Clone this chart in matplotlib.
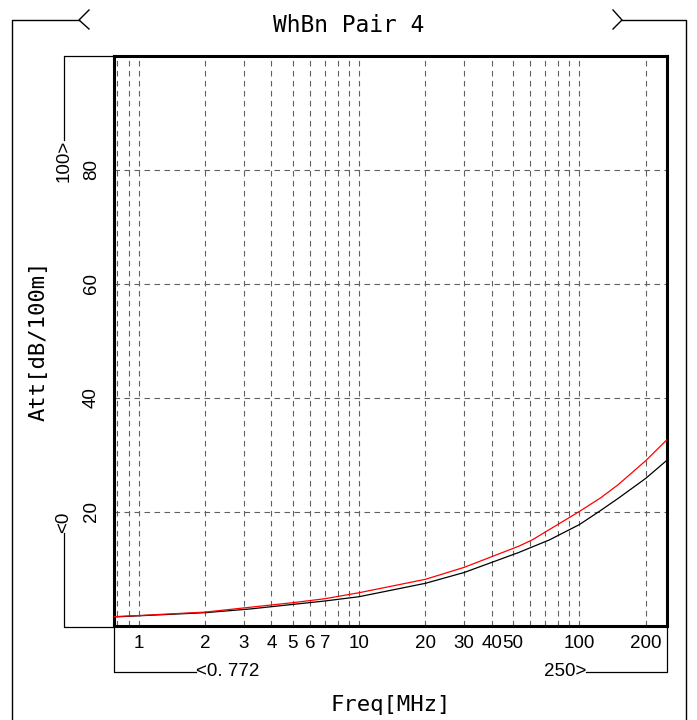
import numpy as np
import matplotlib
matplotlib.use('Agg')
from matplotlib import pyplot as plt
from matplotlib.lines import Line2D

# values
freq_meas = [0.772, 1, 2, 3.2, 5, 7, 10, 20, 30, 53, 73, 100, 123, 150, 200, 250]
att_meas = [1.5, 1.7, 2.25, 2.9, 3.7, 4.3, 5.05, 7.4, 9.3, 12.8, 15.0, 17.7, 20.0, 22.3, 25.8, 29.0]

freq_lim = [0.772, 1, 2, 3.2, 5, 7, 10, 20, 30, 53, 61, 100, 125, 150, 200, 250]
att_lim = [1.55, 1.75, 2.35, 3.2, 4.0, 4.7, 5.75, 8.1, 10.2, 13.9, 15.0, 20.0, 22.4, 24.7, 28.9, 32.6]

x_grid = [0.8, 0.9, 1, 2, 3, 4, 5, 6, 7, 8, 9, 10, 20, 30, 40, 50, 60, 70, 80, 90, 100, 200]
x_labels = {1: '1', 2: '2', 3: '3', 4: '4', 5: '5', 6: '6', 7: '7', 10: '10',
            20: '20', 30: '30', 40: '40', 50: '50', 100: '100', 200: '200'}
y_ticks = [20, 40, 60, 80]
x_min, x_max = 0.772, 250
y_min, y_max = 0, 100

title = 'WhBn Pair 4'
x_title = 'Freq[MHz]'
y_title = 'Att[dB/100m]'

W, H = 697, 720
mono = ['DejaVu Sans Mono']
num = ['Liberation Sans', 'DejaVu Sans']

fig = plt.figure(figsize=(W / 100, H / 100), dpi=100)
L, R, T, B = 114, 667, 55.5, 625.5
ax = fig.add_axes([L / W, 1 - B / H, (R - L) / W, (B - T) / H])

ax.plot(freq_meas, att_meas, color='black', lw=0.9, zorder=3)
ax.plot(freq_lim, att_lim, color='red', lw=0.9, zorder=4)

ax.set_xscale('log')
ax.set_xlim(x_min, x_max)
ax.set_ylim(y_min, y_max)
ax.set_xticks(x_grid)
ax.set_xticklabels([x_labels.get(v, '') for v in x_grid])
ax.xaxis.set_minor_locator(matplotlib.ticker.NullLocator())
ax.set_yticks(y_ticks)
ax.set_yticklabels([str(v) for v in y_ticks], rotation=90, va='center')
ax.tick_params(axis='x', length=0, pad=7, labelsize=13.5)
ax.tick_params(axis='y', length=0, pad=10, labelsize=13.5)
for lab in ax.get_xticklabels() + ax.get_yticklabels():
    lab.set_family(num)
ax.grid(True, color='#606060', lw=0.8, linestyle=(0, (5, 4)))
for s in ax.spines.values():
    s.set_linewidth(2.2)

ax.set_xlabel(x_title, family=mono, fontsize=16, labelpad=31)
ax.set_ylabel(y_title, family=mono, fontsize=16, labelpad=25)


def fx(x):
    return x / W


def fy(y):
    return 1 - y / H


def line(xs, ys, lw=1.0, color='black'):
    fig.add_artist(Line2D([fx(v) for v in xs], [fy(v) for v in ys], lw=lw, color=color))


# outer frame with title chevrons
line([12, 12, 79], [720, 20, 20])
line([89, 79, 89], [10, 20, 29])
line([686, 686, 622], [720, 20, 20])
line([613, 622, 613], [10, 20, 29])
fig.text(fx(349), fy(26), title, family=mono, fontsize=16.5, ha='center', va='center')

# axis range brackets
line([L, 64, 64], [T, T, 140], lw=0.9)
fig.text(fx(64), fy(140), '%d>' % y_max, family=num, fontsize=13.5, rotation=90,
         ha='center', va='top')
line([L, 64, 64], [B + 1, B + 1, 533], lw=0.9)
fig.text(fx(64), fy(533), '<%d' % y_min, family=num, fontsize=13.5, rotation=90,
         ha='center', va='bottom')
line([L, L, 196], [B, 672, 672], lw=0.9)
fig.text(fx(196), fy(672), '<0. 772', family=num, fontsize=13.5, ha='left', va='center')
line([R, R, 586], [B, 672, 672], lw=0.9)
fig.text(fx(586), fy(672), '%d>' % x_max, family=num, fontsize=13.5, ha='right', va='center')

fig.savefig('out.png', dpi=100)
